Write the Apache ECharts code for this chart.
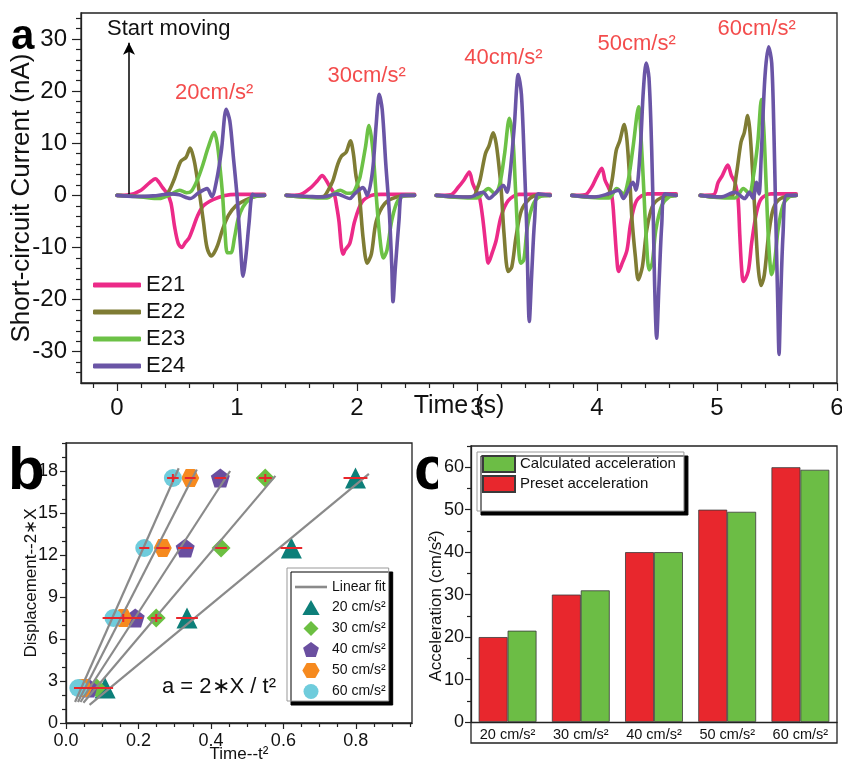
<!DOCTYPE html>
<html lang="en">
<head>
<meta charset="UTF-8">
<title>acceleration</title>
<script src="https://cdn.jsdelivr.net/npm/echarts@6/dist/echarts.min.js"></script>
<style>
    html, body { margin: 0; padding: 0; background: #fff; }
    #main { width: 842px; height: 762px; }
</style>
</head>
<body>
<div id="main"></div>
<script>
var FONT = '"Liberation Sans", Arial, sans-serif';
var INK = '#111';

// ---- panel a : short-circuit current, one block per acceleration ----
var E21 = [
    [[0,0],[0.1,0.1],[0.2,1.0],[0.27,2.4],[0.32,3.2],[0.35,2.5],[0.38,1.5],[0.42,0.3],[0.45,-1.5],[0.48,-6],[0.51,-9.2],[0.54,-10],[0.57,-9],[0.6,-8.2],[0.63,-6.5],[0.67,-4],[0.72,-2],[0.8,-0.8],[0.9,0],[1.0,0.2],[1.23,0.2]],
    [[1.41,0],[1.52,0.1],[1.62,1.6],[1.67,2.8],[1.71,3.8],[1.74,3.0],[1.77,1.8],[1.81,0.3],[1.83,-2],[1.85,-5],[1.87,-10],[1.885,-11.3],[1.9,-10.5],[1.94,-9.2],[1.98,-5],[2.04,-1.3],[2.12,0],[2.2,0.2],[2.48,0.2]],
    [[2.66,0],[2.78,0.1],[2.845,1.6],[2.89,2.9],[2.936,4.5],[2.964,2.3],[2.99,1.0],[3.02,-0.3],[3.05,-4.8],[3.08,-11.1],[3.094,-13],[3.13,-10.8],[3.16,-8.6],[3.2,-4.1],[3.26,-1.0],[3.35,0.2],[3.61,0.2]],
    [[3.79,0],[3.9,0.1],[3.956,1.6],[3.997,3.5],[4.04,5.2],[4.067,2.9],[4.094,1.6],[4.125,-0.3],[4.144,-5.4],[4.164,-11.8],[4.18,-14.6],[4.21,-13],[4.25,-10.5],[4.28,-5.4],[4.33,-1.0],[4.42,0.3],[4.66,0.3]],
    [[4.86,0],[4.97,0.1],[5.01,2.5],[5.044,3.8],[5.09,5.8],[5.12,3.8],[5.15,2.5],[5.175,-0.6],[5.19,-7.6],[5.205,-14],[5.22,-16.5],[5.26,-14.6],[5.29,-8.9],[5.33,-3.2],[5.37,-0.6],[5.45,0.3],[5.66,0.3]]
];
var E22 = [
    [[0,0],[0.2,-0.2],[0.35,-0.3],[0.42,0.4],[0.48,3.3],[0.53,6.5],[0.575,7.3],[0.61,9.1],[0.64,7],[0.66,4.5],[0.69,0],[0.72,-5],[0.75,-10],[0.785,-11.6],[0.81,-11],[0.84,-9.5],[0.88,-6.5],[0.93,-3.8],[0.99,-2],[1.07,-0.9],[1.15,-0.2],[1.23,0]],
    [[1.41,0],[1.6,-0.3],[1.72,-0.2],[1.76,1],[1.8,2.9],[1.84,6],[1.87,7.5],[1.91,8.3],[1.945,10.5],[1.97,8],[1.99,4],[2.02,0],[2.05,-8],[2.085,-13],[2.12,-11.2],[2.16,-5],[2.23,-1.6],[2.33,-0.3],[2.48,0]],
    [[2.66,0],[2.85,-0.3],[2.97,-0.2],[3.0,1.2],[3.025,2.9],[3.07,8],[3.1,9.5],[3.135,12],[3.16,9.9],[3.19,4.1],[3.205,0],[3.225,-7.3],[3.26,-14.6],[3.29,-13.7],[3.325,-8],[3.37,-2.9],[3.44,-0.6],[3.5,0],[3.61,0]],
    [[3.79,0],[3.95,-0.3],[4.08,-0.2],[4.12,2.2],[4.16,8.6],[4.19,10.5],[4.228,13.6],[4.25,10.5],[4.275,2.2],[4.29,-4.1],[4.32,-11.8],[4.344,-16.2],[4.378,-13.7],[4.414,-6.7],[4.46,-2.2],[4.53,-0.5],[4.66,0]],
    [[4.86,0],[5.0,-0.3],[5.12,-0.2],[5.16,3.8],[5.2,10.2],[5.228,12.1],[5.256,15.3],[5.275,12.1],[5.3,3.2],[5.32,-5.1],[5.344,-14],[5.367,-17.3],[5.394,-15.3],[5.43,-7.6],[5.47,-2.5],[5.53,-0.6],[5.66,0]]
];
var E23 = [
    [[0,0],[0.2,-0.3],[0.35,-0.6],[0.45,0.2],[0.52,1.0],[0.58,0.5],[0.62,0.8],[0.67,3],[0.71,5.5],[0.76,9.2],[0.81,12.1],[0.835,10],[0.86,5],[0.88,0],[0.9,-7],[0.92,-11],[0.95,-11],[0.98,-8],[1.01,-4.5],[1.05,-2.2],[1.1,-0.8],[1.15,-0.2],[1.23,0]],
    [[1.41,0],[1.6,-0.4],[1.75,-0.5],[1.81,0.4],[1.86,1.0],[1.92,0.4],[1.97,0.6],[2.0,2],[2.025,3.5],[2.07,9.2],[2.1,13.4],[2.13,9.2],[2.16,0],[2.19,-8],[2.22,-12],[2.25,-10.5],[2.29,-4.8],[2.34,-1.0],[2.41,0],[2.48,0]],
    [[2.66,0],[2.85,-0.4],[3.0,-0.5],[3.05,0.5],[3.094,1.3],[3.15,0.3],[3.19,2.2],[3.23,8],[3.27,14.8],[3.3,10.5],[3.32,1.6],[3.34,-7.3],[3.364,-13],[3.39,-12.4],[3.42,-6],[3.47,-1.6],[3.53,-0.2],[3.61,0]],
    [[3.79,0],[3.95,-0.4],[4.1,-0.5],[4.164,1.3],[4.22,0.3],[4.26,2.9],[4.3,9.2],[4.347,17],[4.37,9.9],[4.39,1],[4.41,-8],[4.435,-14.3],[4.46,-13],[4.49,-6.7],[4.54,-1.9],[4.6,-0.3],[4.66,0]],
    [[4.86,0],[5.0,-0.4],[5.15,-0.5],[5.22,1.3],[5.27,0.3],[5.3,3.2],[5.34,10.2],[5.37,18.4],[5.39,12.7],[5.41,1.9],[5.43,-8.9],[5.456,-15.2],[5.48,-12.7],[5.51,-6.4],[5.55,-1.9],[5.6,-0.3],[5.66,0]]
];
var E24 = [
    [[0,0],[0.15,-0.2],[0.3,-0.1],[0.45,0.3],[0.52,0.1],[0.61,-0.6],[0.68,0.5],[0.75,1.3],[0.79,-0.2],[0.83,2.9],[0.87,8.6],[0.91,16.5],[0.94,14.3],[0.97,7.3],[1.0,0],[1.03,-10],[1.05,-15.5],[1.075,-11.5],[1.1,-5.4],[1.13,0.2],[1.16,0],[1.23,0]],
    [[1.41,0],[1.6,-0.2],[1.72,-0.3],[1.83,0.3],[1.94,-0.6],[1.98,0.3],[2.05,1.5],[2.085,0],[2.13,4.8],[2.16,13.7],[2.185,19.4],[2.21,16.5],[2.24,6],[2.27,-3.5],[2.29,-13.7],[2.3,-20.4],[2.32,-13.7],[2.35,-4.8],[2.37,0],[2.4,0],[2.48,0]],
    [[2.66,0],[2.8,-0.2],[2.94,-0.3],[3.05,0.6],[3.1,-0.6],[3.16,0.6],[3.22,1.9],[3.25,0.6],[3.275,4.1],[3.31,13],[3.344,23.2],[3.37,19.4],[3.394,6.7],[3.414,-6],[3.436,-24.2],[3.456,-15],[3.48,-4.8],[3.51,0.3],[3.61,0]],
    [[3.79,0],[3.98,-0.3],[4.094,0.3],[4.18,1.0],[4.22,-0.6],[4.26,1.0],[4.3,2.5],[4.325,1.0],[4.36,8.6],[4.386,20],[4.41,25.4],[4.433,22.6],[4.456,8.6],[4.47,-5.4],[4.48,-16.9],[4.497,-27.4],[4.517,-16.9],[4.54,-5.4],[4.567,0.3],[4.66,0]],
    [[4.86,0],[5.03,-0.3],[5.15,0.6],[5.23,-0.6],[5.27,0.6],[5.3,-0.6],[5.33,2.5],[5.35,0.3],[5.37,8.3],[5.4,22.9],[5.43,28.5],[5.456,25.4],[5.475,11.5],[5.49,-4.5],[5.506,-20.4],[5.517,-30.5],[5.53,-20.4],[5.55,-7.6],[5.58,0],[5.66,0]]
];
var electrodeNames = ['E21', 'E22', 'E23', 'E24'];
var electrodeColors = ['#ec2a88', '#7f7c34', '#6cc146', '#6a55a6'];
var accelText = ['20cm/s²', '30cm/s²', '40cm/s²', '50cm/s²', '60cm/s²'];
var accelTextPos = [[0.81, 19.7], [2.08, 22.9], [3.22, 26.3], [4.33, 29.0], [5.33, 31.9]];
var startMove = [[0.1, 0], [0.1, 29.3]];
var aXTicks = [0, 1, 2, 3, 4, 5, 6];
var aYTicks = [-30, -20, -10, 0, 10, 20, 30];

// ---- panel b : displacement vs t^2 ----
var dispLevels = [2.5, 7.5, 12.5, 17.5];
var speedNames = ['20 cm/s²', '30 cm/s²', '40 cm/s²', '50 cm/s²', '60 cm/s²'];
var tSq20 = [0.108, 0.334, 0.622, 0.799];
var tSq30 = [0.085, 0.249, 0.428, 0.550];
var tSq40 = [0.062, 0.191, 0.329, 0.426];
var tSq50 = [0.048, 0.158, 0.267, 0.343];
var tSq60 = [0.034, 0.131, 0.216, 0.295];
var err20 = [0.022, 0.030, 0.030, 0.033];
var err30 = [0.012, 0.015, 0.016, 0.018];
var err40 = [0.020, 0.020, 0.020, 0.016];
var err50 = [0.015, 0.020, 0.018, 0.015];
var err60 = [0.012, 0.030, 0.014, 0.016];
var plus20 = [0, 0, 0, 0];
var plus30 = [0, 1, 0, 1];
var plus40 = [0, 0, 0, 0];
var plus50 = [0, 1, 0, 0];
var plus60 = [0, 0, 0, 1];
var fit20 = [[0.065, 1.3], [0.836, 17.8]];
var fit30 = [[0.048, 1.45], [0.578, 17.65]];
var fit40 = [[0.040, 1.5], [0.453, 18.0]];
var fit50 = [[0.033, 1.5], [0.361, 18.1]];
var fit60 = [[0.025, 1.5], [0.311, 18.2]];
var bXTicks = [0, 0.2, 0.4, 0.6, 0.8];
var bYTicks = [0, 3, 6, 9, 12, 15, 18];

// ---- panel c : preset vs calculated acceleration ----
var accelCats = ['20 cm/s²', '30 cm/s²', '40 cm/s²', '50 cm/s²', '60 cm/s²'];
var presetAccel = [20, 30, 40, 50, 60];
var calcAccel = [21.5, 31.0, 40.0, 49.5, 59.4];
var cYTicks = [0, 10, 20, 30, 40, 50, 60];

var tSqAll = [tSq20, tSq30, tSq40, tSq50, tSq60];
var errAll = [err20, err30, err40, err50, err60];
var plusAll = [plus20, plus30, plus40, plus50, plus60];
var fitAll = [fit20, fit30, fit40, fit50, fit60];
var speedColors = ['#0d7f79', '#6cbf42', '#6a4fa0', '#f68a1f', '#6fccdc'];
var speedSymbols = [
    'path://M0,-10 L11.5,10 L-11.5,10 Z',
    'path://M0,-10 L10,0 L0,10 L-10,0 Z',
    'path://M0,-10 L9.51,-3.09 L5.88,8.09 L-5.88,8.09 L-9.51,-3.09 Z',
    'path://M-5,-8.66 L5,-8.66 L10,0 L5,8.66 L-5,8.66 L-10,0 Z',
    'circle'
];
var speedSizes = [21, 19, 19, 18, 18];
var fitIcon = 'path://M0,0 L32,0 L32,2.6 L0,2.6 Z';

function joinGroups(groups) {
    var out = [];
    groups.forEach(function (g, i) {
        if (i > 0) out.push(['-', '-']);
        out = out.concat(g);
    });
    return out;
}
function minorTicks(lo, hi, step, majors) {
    var out = [];
    for (var v = lo; v <= hi + 1e-9; v += step) {
        var r = Math.round(v * 1000) / 1000;
        if (majors.indexOf(r) < 0) out.push(r);
    }
    return out;
}

var lineAxis = { show: true, onZero: false, lineStyle: { color: '#222', width: 1.3 } };
var tickStyle = { color: '#222', width: 1.2 };

function mainAxis(o) {
    return Object.assign({
        type: 'value',
        axisLine: lineAxis,
        splitLine: { show: false },
        nameMoveOverlap: false,
        axisTick: { show: true, inside: false, length: o.tickLen, customValues: o.ticks, lineStyle: tickStyle },
        axisLabel: { customValues: o.ticks, fontSize: o.fs, color: INK, fontFamily: FONT, margin: o.margin, formatter: o.fmt }
    }, o.extra);
}
function minorAxis(o) {
    return Object.assign({
        type: 'value',
        axisLine: { show: false, onZero: false },
        splitLine: { show: false },
        axisTick: { show: true, inside: false, length: o.tickLen, customValues: o.ticks, lineStyle: tickStyle },
        axisLabel: { show: false }
    }, o.extra);
}

var xAxes = [
    mainAxis({ ticks: aXTicks, tickLen: 8, fs: 24, margin: 13, extra: {
        gridIndex: 0, min: -0.3, max: 6, position: 'bottom',
        name: 'Time (s)', nameLocation: 'middle', nameGap: 11,
        nameTextStyle: { fontSize: 25, color: INK, fontFamily: FONT } } }),
    minorAxis({ ticks: minorTicks(-0.2, 6, 0.2, aXTicks), tickLen: 5, extra: {
        gridIndex: 0, min: -0.3, max: 6, position: 'bottom' } }),
    mainAxis({ ticks: bXTicks, tickLen: 6, fs: 18, margin: 9, fmt: function (v) { return v.toFixed(1); }, extra: {
        gridIndex: 1, min: 0, max: 0.955, position: 'bottom',
        name: 'Time--t²', nameLocation: 'middle', nameGap: 23,
        nameTextStyle: { fontSize: 17, color: INK, fontFamily: FONT } } }),
    minorAxis({ ticks: minorTicks(0.05, 0.95, 0.05, bXTicks), tickLen: 4, extra: {
        gridIndex: 1, min: 0, max: 0.955, position: 'bottom' } }),
    {
        type: 'category', gridIndex: 2, data: accelCats, position: 'bottom',
        axisLine: lineAxis, axisTick: { show: false }, splitLine: { show: false },
        axisLabel: { interval: 0, fontSize: 14.5, color: INK, fontFamily: FONT, margin: 5, hideOverlap: false }
    }
];
var yAxes = [
    mainAxis({ ticks: aYTicks, tickLen: 9, fs: 24, margin: 14, extra: {
        gridIndex: 0, min: -36, max: 35, position: 'left',
        name: 'Short-circuit Current (nA)', nameLocation: 'middle', nameGap: 46,
        nameTextStyle: { fontSize: 26, color: INK, fontFamily: FONT } } }),
    minorAxis({ ticks: minorTicks(-34, 34, 2, aYTicks), tickLen: 5, extra: {
        gridIndex: 0, min: -36, max: 35, position: 'left' } }),
    mainAxis({ ticks: bYTicks, tickLen: 6, fs: 18, margin: 8, extra: {
        gridIndex: 1, min: 0, max: 20, position: 'left',
        name: 'Displacement--2∗X', nameLocation: 'middle', nameGap: 26,
        nameTextStyle: { fontSize: 17, color: INK, fontFamily: FONT } } }),
    minorAxis({ ticks: minorTicks(1, 20, 1, bYTicks), tickLen: 4, extra: {
        gridIndex: 1, min: 0, max: 20, position: 'left' } }),
    mainAxis({ ticks: cYTicks, tickLen: 6, fs: 18, margin: 7, extra: {
        gridIndex: 2, min: 0, max: 65, position: 'left', z: 8 } }),
    minorAxis({ ticks: minorTicks(5, 65, 5, cYTicks), tickLen: 4, extra: {
        gridIndex: 2, min: 0, max: 65, position: 'left', z: 8 } })
];

var series = [];

// panel a lines
[E21, E22, E23, E24].forEach(function (groups, i) {
    var s = {
        name: electrodeNames[i], type: 'line', xAxisIndex: 0, yAxisIndex: 0,
        data: joinGroups(groups), smooth: 0.3, symbol: 'none', connectNulls: false,
        color: electrodeColors[i],
        lineStyle: { width: 3.6, color: electrodeColors[i], cap: 'round', join: 'round' },
        z: 3 + i
    };
    if (i === 0) {
        s.markLine = {
            silent: true, symbol: ['none', 'arrow'], symbolSize: [9, 12],
            label: { show: false },
            lineStyle: { color: '#000', width: 1.5, type: 'solid' },
            data: [[{ coord: startMove[0] }, { coord: startMove[1] }]]
        };
    }
    series.push(s);
});
series.push({
    name: 'accel labels', type: 'scatter', xAxisIndex: 0, yAxisIndex: 0,
    symbolSize: 1, itemStyle: { color: 'rgba(0,0,0,0)' }, silent: true,
    data: accelTextPos.map(function (p, i) { return { value: p, name: accelText[i] }; }),
    label: {
        show: true, position: 'inside', formatter: '{b}',
        fontSize: 22, color: '#f01f1f', fontFamily: FONT
    }
});

// panel b markers, fits, error bars
tSqAll.forEach(function (ts, i) {
    series.push({
        name: speedNames[i], type: 'scatter', xAxisIndex: 2, yAxisIndex: 2,
        data: ts.map(function (t, k) { return [t, dispLevels[k]]; }),
        symbol: speedSymbols[i], symbolSize: speedSizes[i],
        itemStyle: { color: speedColors[i], opacity: 1 }, z: 3
    });
});
fitAll.forEach(function (f) {
    series.push({
        name: 'Linear fit', type: 'line', xAxisIndex: 2, yAxisIndex: 2,
        data: f, symbol: 'none', color: '#8a8a8a',
        lineStyle: { width: 2.2, color: '#8a8a8a' }, z: 4
    });
});
var errData = [];
tSqAll.forEach(function (ts, i) {
    ts.forEach(function (t, k) { errData.push([t, dispLevels[k], errAll[i][k], plusAll[i][k]]); });
});
series.push({
    name: 'error', type: 'custom', xAxisIndex: 2, yAxisIndex: 2, z: 5, silent: true,
    encode: { x: 0, y: 1 },
    data: errData,
    renderItem: function (params, api) {
        var x = api.value(0), y = api.value(1), e = api.value(2), plus = api.value(3);
        var p0 = api.coord([x - e, y]), p1 = api.coord([x + e, y]), c = api.coord([x, y]);
        var st = { stroke: '#e8262b', lineWidth: 2 };
        var kids = [{ type: 'line', shape: { x1: p0[0], y1: p0[1], x2: p1[0], y2: p1[1] }, style: st }];
        if (plus) kids.push({ type: 'line', shape: { x1: c[0], y1: c[1] - 4, x2: c[0], y2: c[1] + 4 }, style: st });
        return { type: 'group', children: kids };
    }
});

// panel c bars
series.push({
    name: 'Preset acceleration', type: 'bar', xAxisIndex: 4, yAxisIndex: 4,
    data: presetAccel, barGap: '0%', barCategoryGap: '21%',
    itemStyle: { color: '#e8272d', borderColor: '#3a3a3a', borderWidth: 0.8 }
});
series.push({
    name: 'Calculated acceleration', type: 'bar', xAxisIndex: 4, yAxisIndex: 4,
    data: calcAccel, barGap: '0%', barCategoryGap: '21%',
    itemStyle: { color: '#6cbd45', borderColor: '#3a3a3a', borderWidth: 0.8 }
});

var boxShadow = { shadowColor: '#000', shadowBlur: 0, shadowOffsetX: 4, shadowOffsetY: 4 };
var gridBase = { outerBoundsMode: 'none', containLabel: false };

var option = {
    backgroundColor: '#fff',
    animation: false,
    textStyle: { fontFamily: FONT },
    grid: [
        Object.assign({ left: 81, top: 13, width: 756, height: 370, show: true, borderColor: '#222', borderWidth: 1.3, backgroundColor: 'transparent' }, gridBase),
        Object.assign({ left: 66, top: 443, width: 346, height: 280, show: true, borderColor: '#222', borderWidth: 1.3, backgroundColor: 'transparent' }, gridBase),
        Object.assign({ left: 471, top: 446, width: 366, height: 276, show: false }, gridBase)
    ],
    legend: [
        {
            data: electrodeNames, orient: 'vertical', left: 88, top: 269,
            icon: 'roundRect', itemWidth: 48, itemHeight: 5, itemGap: 5,
            selectedMode: false, padding: 5,
            textStyle: { fontSize: 22, color: INK, fontFamily: FONT }
        },
        Object.assign({
            data: [{ name: 'Linear fit', icon: fitIcon }].concat(speedNames), orient: 'vertical', left: 287, top: 568,
            itemWidth: 32, itemHeight: 15, itemGap: 6, selectedMode: false,
            padding: [12, 3, 2, 8],
            backgroundColor: '#fff', borderColor: '#999', borderWidth: 1,
            textStyle: { fontSize: 14, color: INK, fontFamily: FONT }
        }, boxShadow),
        Object.assign({
            data: ['Calculated acceleration', 'Preset acceleration'], orient: 'vertical', left: 477, top: 452,
            icon: 'rect', itemWidth: 32, itemHeight: 16, itemGap: 2, selectedMode: false,
            padding: [3, 8, 18, 5],
            backgroundColor: '#fff', borderColor: '#999', borderWidth: 1,
            textStyle: { fontSize: 15, color: INK, fontFamily: FONT }
        }, boxShadow)
    ],
    xAxis: xAxes,
    yAxis: yAxes,
    series: series,
    graphic: [
        { type: 'text', left: 11, top: 16, z: 1, style: { text: 'a', fontSize: 42, fontWeight: 'bold', fill: '#000', fontFamily: FONT } },
        { type: 'text', left: 8, top: 442, z: 1, style: { text: 'b', fontSize: 60, fontWeight: 'bold', fill: '#000', fontFamily: FONT } },
        { type: 'text', left: 414, top: 441, z: 1, style: { text: 'c', fontSize: 62, fontWeight: 'bold', fill: '#000', fontFamily: FONT } },
        { type: 'rect', z: 2, shape: { x: 438, y: 440, width: 32, height: 70 }, style: { fill: '#fff' } },
        { type: 'text', left: 107, top: 18, style: { text: 'Start moving', fontSize: 22, fill: INK, fontFamily: FONT } },
        { type: 'text', left: 162, top: 676, style: { text: 'a = 2∗X / t²', fontSize: 22, fill: INK, fontFamily: FONT } },
        { type: 'rect', shape: { x: 471, y: 446, width: 366, height: 297 }, z: 10, style: { fill: 'none', stroke: '#222', lineWidth: 1.3 } },
        { type: 'text', x: 436, y: 606, rotation: Math.PI / 2,
          style: { text: 'Acceleration (cm/s²)', align: 'center', verticalAlign: 'middle', fontSize: 17, fill: INK, fontFamily: FONT } }
    ]
};

var myChart = echarts.init(document.getElementById('main'));
myChart.setOption(option);
</script>
</body>
</html>
